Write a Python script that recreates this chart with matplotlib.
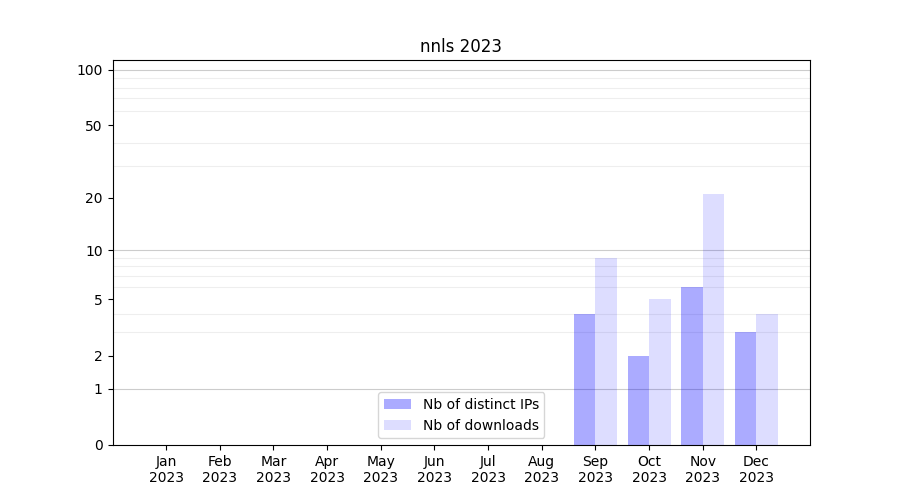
import numpy as np
import matplotlib.pyplot as plt
from matplotlib.ticker import FixedLocator

months = ['Jan', 'Feb', 'Mar', 'Apr', 'May', 'Jun',
          'Jul', 'Aug', 'Sep', 'Oct', 'Nov', 'Dec']
year = '2023'
distinct_ips = [0, 0, 0, 0, 0, 0, 0, 0, 4, 2, 6, 3]
downloads = [0, 0, 0, 0, 0, 0, 0, 0, 9, 5, 21, 4]
ytick_values = [0, 1, 2, 5, 10, 20, 50, 100]


def forward(y):
    return np.log10(1 + np.clip(y, 0, None))


def inverse(y):
    return 10 ** y - 1


def create_chart():
    fig, ax = plt.subplots(figsize=(9, 5), dpi=100)

    x = np.arange(len(months))
    width = 0.4

    ax.bar(x - width / 2, distinct_ips, width, color='blue', alpha=0.33,
           label='Nb of distinct IPs', zorder=2)
    ax.bar(x + width / 2, downloads, width, color='blue', alpha=0.135,
           label='Nb of downloads', zorder=2)

    ax.set_yscale('function', functions=(forward, inverse))
    ax.set_ylim(0, 113)
    ax.set_xlim(-1, 12)

    ax.set_yticks(ytick_values)
    ax.set_yticklabels([str(v) for v in ytick_values])
    minor = [m * 10 ** k for k in range(0, 3) for m in range(2, 10)]
    ax.yaxis.set_minor_locator(FixedLocator(minor))
    ax.tick_params(axis='y', which='minor', length=0)
    ax.grid(True, which='minor', axis='y', color='#eeeeee', linewidth=0.8, zorder=0)
    for v in [1, 10, 100]:
        ax.axhline(v, color='#cccccc', linewidth=0.8, zorder=1)

    ax.set_xticks(x)
    ax.set_xticklabels([f'{m}\n{year}' for m in months])
    ax.set_title('nnls 2023')
    ax.legend(loc='lower center')

    plt.savefig('out.png')
    plt.close()


if __name__ == '__main__':
    create_chart()
